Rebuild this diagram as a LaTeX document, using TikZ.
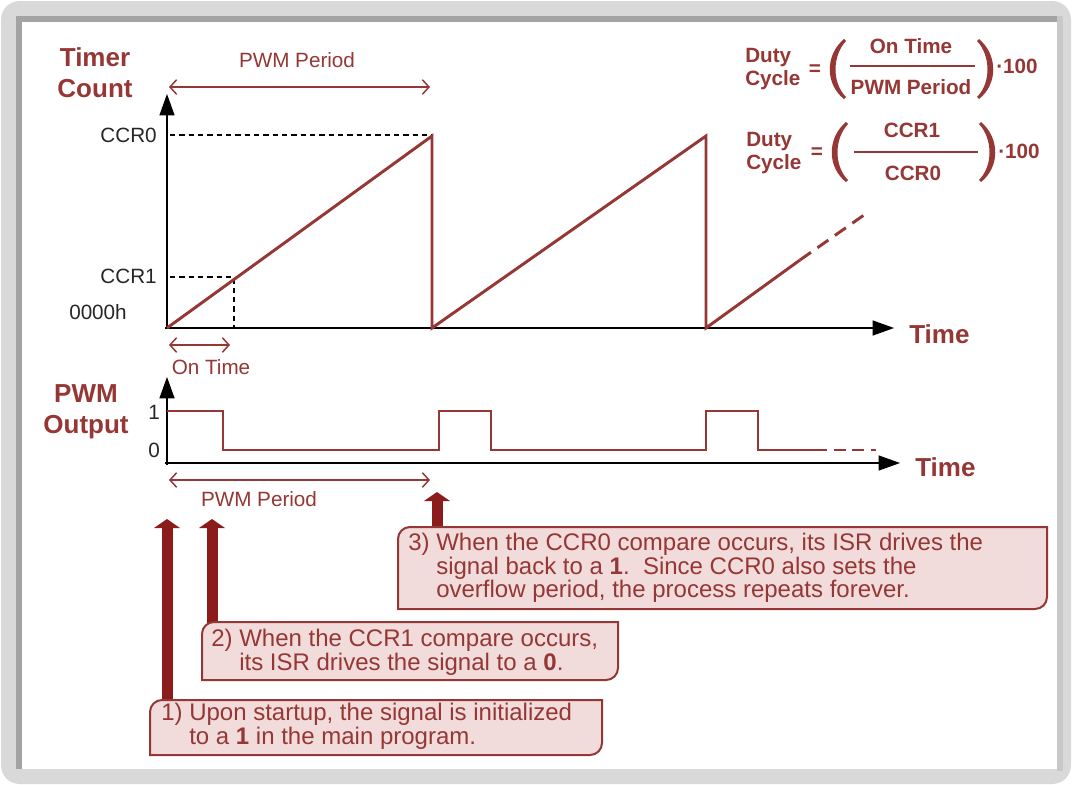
\documentclass[tikz,border=0pt]{standalone}
\usepackage{fontspec}
\setmainfont{Liberation Sans}
\usetikzlibrary{arrows.meta}
\definecolor{dred}{HTML}{953735}
\definecolor{darr}{HTML}{8C1C1C}
\definecolor{bfill}{HTML}{F2DCDB}
\definecolor{lbl}{HTML}{262626}
\definecolor{frameout}{HTML}{D9D9D9}
\definecolor{framein}{HTML}{A3A3A3}
\definecolor{frameside}{HTML}{C8C8C8}
\begin{document}
\begin{tikzpicture}[x=0.75pt,y=-0.75pt,
  axis/.style={line width=2.2pt, black, -{Triangle[length=16pt,width=11.5pt,line width=0pt]}},
  sig/.style={line width=2.2pt, dred, line join=miter},
  guide/.style={line width=1.1pt, black, dash pattern=on 4pt off 3pt},
  span/.style={line width=1.1pt, dred, {Straight Barb[length=5pt,width=11pt]}-{Straight Barb[length=5pt,width=11pt]}},
  ttl/.style={font=\fontsize{19.5}{23.5}\bfseries\selectfont, text=dred, align=center, inner sep=0pt},
  lab/.style={font=\fontsize{15.5}{18}\selectfont, text=lbl, inner sep=0pt},
  rlab/.style={font=\fontsize{15.5}{18}\selectfont, text=dred, inner sep=0pt},
  fml/.style={font=\fontsize{15.5}{17.5}\bfseries\selectfont, text=dred, inner sep=0pt},
  cbox/.style={draw=dred, fill=bfill, line width=1.5pt},
  ctext/.style={font=\fontsize{18}{17.6}\selectfont, text=dred, align=left, inner sep=0pt, anchor=north west},
  callarrow/.style={darr, line width=8.25pt, -{Triangle[width=19.5pt,length=6.75pt,line width=0pt]}}
]
\useasboundingbox (0,0) rectangle (1076,785);
% frame
\fill[frameout, rounded corners=14] (1,1) rectangle (1071,784);
\fill[frameside] (1057,16) rectangle (1063,771);
\fill[white] (16,16) rectangle (1057,769);
\draw[framein, line width=4.2pt] (18.8,769) -- (18.8,18.8) -- (1057,18.8);

% ---------------- timer count chart ----------------
\node[ttl] (tc) at (95,73) {Timer\\Count};
\node[rlab] (pp1) at (297,60) {PWM Period};
\coordinate (pp1a) at (169,87);
\coordinate (pp1b) at (430,87);
\draw[span] (pp1a) -- (pp1b);

\coordinate (o1) at (167,329);
\coordinate (ytip1) at (167,94);
\coordinate (xtip1) at (894,328);
\draw[guide] (170,135) -- (432,135);
\draw[guide] (170,277) -- (234,277) -- (234,328);
\draw[axis] (o1) -- (ytip1);
\draw[axis] (165,328) -- (xtip1);
\node[ttl, anchor=west] (time1) at (909,334) {Time};

\node[lab, anchor=east] (ccr0) at (157,135) {CCR0};
\node[lab, anchor=east] (ccr1) at (157,276) {CCR1};
\node[lab] (zero) at (98,312) {0000h};

\draw[sig] (167,328) -- (432,136) -- (432,328) -- (706,136) -- (706,328) -- (800,260);
\draw[sig, dash pattern=on 10pt off 6pt] (800,260) -- (864,215);

\coordinate (ot1) at (169,345);
\coordinate (ot2) at (230,345);
\draw[span] (ot1) -- (ot2);
\node[rlab] (ontime) at (211,367) {On Time};

% ---------------- duty cycle formulas ----------------
\node[fml, anchor=west, align=left] (dc1) at (745,69) {Duty\\Cycle};
\node[fml] (eq1) at (815,70) {=};
\node[fml] (num1) at (911,46) {On Time};
\node[fml] (den1) at (911,87) {PWM Period};
\draw[dred, line width=1.6pt] (850,66) -- (975,66);
\fill[dred] (844,39) .. controls (825,55) and (825,84) .. (844,99) -- (846,97) .. controls (832,83) and (832,56) .. (846,41) -- cycle;
\fill[dred] (979,39) .. controls (998,55) and (998,84) .. (979,99) -- (977,97) .. controls (991,83) and (991,56) .. (977,41) -- cycle;
\node[fml, anchor=west] (h1) at (996,66) {·100};

\node[fml, anchor=west, align=left] (dc2) at (746,153) {Duty\\Cycle};
\node[fml] (eq2) at (817,153) {=};
\node[fml] (num2) at (912,130) {CCR1};
\node[fml] (den2) at (913,173) {CCR0};
\draw[dred, line width=1.6pt] (854,152) -- (978,152);
\fill[dred] (846,122) .. controls (827,138) and (827,167) .. (846,182) -- (848,180) .. controls (834,166) and (834,139) .. (848,124) -- cycle;
\fill[dred] (981,122) .. controls (1000,138) and (1000,167) .. (981,182) -- (979,180) .. controls (993,166) and (993,139) .. (979,124) -- cycle;
\node[fml, anchor=west] (h2) at (998,151) {·100};

% ---------------- PWM output chart ----------------
\node[ttl] (po) at (86,412) {PWM\\Output};
\coordinate (o2) at (167,465);
\coordinate (ytip2) at (167,377);
\coordinate (xtip2) at (900,463);
\draw[axis] (o2) -- (ytip2);
\draw[axis] (165,463) -- (xtip2);
\node[ttl, anchor=west] (time2) at (915,467) {Time};
\node[lab] (one) at (154,412) {1};
\node[lab] (nil) at (154,450) {0};

\draw[sig] (167,411) -- (223,411) -- (223,450) -- (439,450) -- (439,411) -- (491,411) -- (491,450) -- (706,450) -- (706,411) -- (758,411) -- (758,450) -- (815,450);
\draw[sig, dash pattern=on 9pt off 5pt] (815,450) -- (876,450);

\coordinate (pp2a) at (169,480);
\coordinate (pp2b) at (430,480);
\draw[span] (pp2a) -- (pp2b);
\node[rlab] (pp2) at (259,499) {PWM Period};

% ---------------- callouts ----------------
\coordinate (a1) at (167,519);
\coordinate (a2) at (212,519);
\coordinate (a3) at (437,492);
\coordinate (b1top) at (167,702);
\coordinate (b2top) at (212,624);
\coordinate (b3top) at (437,529);
\draw[callarrow] (b1top) -- (a1);
\draw[callarrow] (b2top) -- (a2);
\draw[callarrow] (b3top) -- (a3);

\draw[cbox] (398,539) .. controls (398,532.4) and (403.4,527) .. (410,527) -- (1047,527) -- (1047,597) .. controls (1047,603.6) and (1041.6,609) .. (1035,609) -- (398,609) -- cycle;
\draw[cbox] (202,634) .. controls (202,627.4) and (207.4,622) .. (214,622) -- (618,622) -- (618,668) .. controls (618,674.6) and (612.6,680) .. (606,680) -- (202,680) -- cycle;
\draw[cbox] (150,712) .. controls (150,705.4) and (155.4,700) .. (162,700) -- (602,700) -- (602,743) .. controls (602,749.6) and (596.6,755) .. (590,755) -- (150,755) -- cycle;

\node[ctext] (t3) at (408,533) {3) When the CCR0 compare occurs, its ISR drives the\\\phantom{3) }signal back to a \textbf{1}.\ \ Since CCR0 also sets the\\\phantom{3) }overflow period, the process repeats forever.};
\node[ctext] (t2) at (211,629) {2) When the CCR1 compare occurs,\\\phantom{2) }its ISR drives the signal to a \textbf{0}.};
\node[ctext] (t1) at (161,703) {1) Upon startup, the signal is initialized\\\phantom{1) }to a \textbf{1} in the main program.};
\end{tikzpicture}
\end{document}
